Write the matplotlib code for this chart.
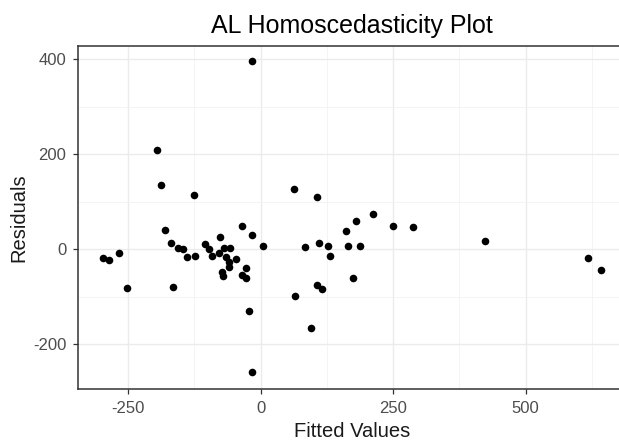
import matplotlib
matplotlib.use("Agg")
import matplotlib.pyplot as plt
from matplotlib.ticker import MultipleLocator

plt.rcParams['font.family'] = ['Liberation Sans', 'DejaVu Sans']
plt.rcParams['axes.unicode_minus'] = False

title = "AL Homoscedasticity Plot"
x_label = "Fitted Values"
y_label = "Residuals"

fitted = [-188.5, -126, -180, -169, -156.5, -146, -139.5, -123.7, -298, -286.6,
          -267.7, -252, -166, -105.6, -98, -91.6, -76, -79, -68.4, -57,
          -65, -60, -59, -46, -73.5, -71, -35, -17, 4, -27.5,
          -36, -27.5, -22, -17, -196, -15.6,
          63, 106, 212.5, 180.4, 161.6, 250, 287, 84, 111, 127,
          130, 165, 188, 175, 105.6, 116, 65.4, 95,
          423, 618, 642]
residuals = [136, 115, 41, 14, 2, 0, -16, -13.5, -18, -22,
             -7, -81.6, -79, 10.5, 0, -13.5, 26, -8.5, 2, 2,
             -15.5, -26, -36.5, -21, -48, -55.6, 50, 29, 7.6, -40,
             -54, -61, -129.5, 397, 209, -259,
             127, 110, 74, 59, 38, 50, 47, 5, 14, 7.6,
             -13.5, 7.6, 7.6, -60.5, -75, -84, -99, -165,
             17, -19, -43]

x_ticks = [-250, 0, 250, 500]
y_ticks = [-200, 0, 200, 400]

fig = plt.figure(figsize=(6.19, 4.42), dpi=100)
ax = fig.add_axes([77.5/619, (442-388.7)/442, (625.8-77.5)/619, (388.7-45.7)/442])

ax.scatter(fitted, residuals, s=30, color='black', linewidths=0, zorder=3)

ax.set_xlim(-345.6, 689)
ax.set_ylim(-294, 429)
ax.set_xticks(x_ticks)
ax.set_yticks(y_ticks)
ax.xaxis.set_minor_locator(MultipleLocator(125))
ax.yaxis.set_minor_locator(MultipleLocator(100))
ax.grid(True, which='major', color='#ebebeb', linewidth=1.0, zorder=0)
ax.grid(True, which='minor', color='#f2f2f2', linewidth=0.6, zorder=0)
ax.set_axisbelow(True)
ax.tick_params(which='minor', length=0)
ax.tick_params(which='major', length=3.5, width=0.9, color='#333333',
               labelcolor='#4d4d4d', labelsize=12)
ax.tick_params(axis='x', pad=5.5)
ax.tick_params(axis='y', pad=4.5)
for sp in ax.spines.values():
    sp.set_color('#333333')
    sp.set_linewidth(1.1)

ax.set_xlabel(x_label, fontsize=14.5, color='#1a1a1a', labelpad=4)
ax.set_ylabel(y_label, fontsize=14.5, color='#1a1a1a', labelpad=3)
fig.text(352/619, 1 - 33/442, title, fontsize=18, ha='center', va='baseline')

fig.savefig("out.png", dpi=100)
